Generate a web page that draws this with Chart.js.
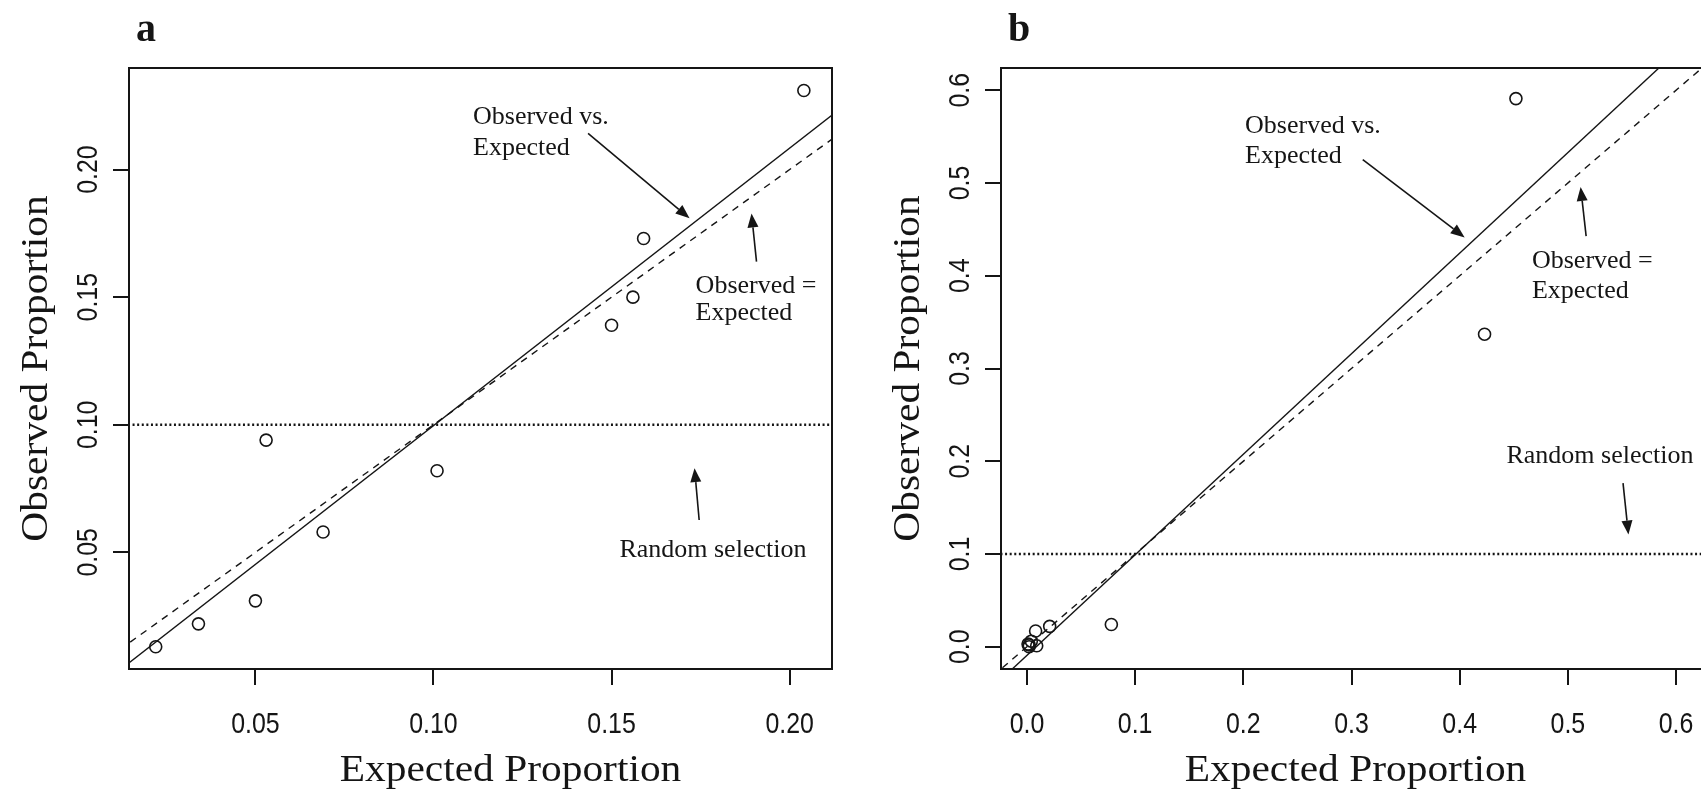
<!DOCTYPE html>
<html><head><meta charset="utf-8">
<script src="https://cdn.jsdelivr.net/npm/chart.js@4.4.0/dist/chart.umd.min.js"></script>
<style>
html,body{margin:0;padding:0;background:#fff;overflow:hidden;width:1701px;height:793px;}
#wa{position:absolute;left:0;top:0;width:850px;height:793px;}
#wb{position:absolute;left:850px;top:0;width:880px;height:793px;}
canvas{display:block;}
</style></head><body>
<div id="wa"><canvas id="ca" width="850" height="793"></canvas></div>
<div id="wb"><canvas id="cb" width="880" height="793"></canvas></div>
<script>
// ---------- Panel a data ----------
const expectedA = [0.022, 0.034, 0.050, 0.053, 0.069, 0.101, 0.150, 0.156, 0.159, 0.204];
const observedA = [0.013, 0.022, 0.031, 0.094, 0.058, 0.082, 0.139, 0.150, 0.173, 0.231];
const fitXA = [0.0, 0.25];
const fitYA = [-0.0091, 0.2628];
const identXA = [0.0, 0.25];
const identYA = [0.0, 0.25];
const randXA = [0.0, 0.25];
const randYA = [0.1, 0.1];
const xTicksA = [0.05, 0.10, 0.15, 0.20];
const xTickLabelsA = ['0.05', '0.10', '0.15', '0.20'];
const yTicksA = [0.05, 0.10, 0.15, 0.20];
const yTickLabelsA = ['0.05', '0.10', '0.15', '0.20'];
const xRangeA = [0.0145, 0.2119];
const yRangeA = [0.0043, 0.2398];

// ---------- Panel b data ----------
const expectedB = [0.452, 0.423, 0.078, 0.021, 0.008, 0.009, 0.004, 0.002, 0.001, 0.002];
const observedB = [0.591, 0.337, 0.024, 0.022, 0.017, 0.001, 0.006, 0.002, 0.003, 0.000];
const fitXB = [-0.05, 0.70];
const fitYB = [-0.0635, 0.7496];
const identXB = [-0.05, 0.70];
const identYB = [-0.05, 0.70];
const randXB = [-0.05, 0.70];
const randYB = [0.1, 0.1];
const xTicksB = [0.0, 0.1, 0.2, 0.3, 0.4, 0.5, 0.6];
const xTickLabelsB = ['0.0', '0.1', '0.2', '0.3', '0.4', '0.5', '0.6'];
const yTicksB = [0.0, 0.1, 0.2, 0.3, 0.4, 0.5, 0.6];
const yTickLabelsB = ['0.0', '0.1', '0.2', '0.3', '0.4', '0.5', '0.6'];
const xRangeB = [-0.024, 0.624];
const yRangeB = [-0.024, 0.624];

// ---------- Annotations (data coordinates) ----------
const notesA = [
  {text: 'Observed vs.', x: 0.1111, y: 0.2178},
  {text: 'Expected', x: 0.1111, y: 0.2056},
  {text: 'Observed =', x: 0.1736, y: 0.1516},
  {text: 'Expected', x: 0.1736, y: 0.1410},
  {text: 'Random selection', x: 0.1522, y: 0.0482}
];
const arrowsA = [
  {x1: 0.1434, y1: 0.2142, x2: 0.1719, y2: 0.1809},
  {x1: 0.1907, y1: 0.1639, x2: 0.1893, y2: 0.1828},
  {x1: 0.1746, y1: 0.0627, x2: 0.1733, y2: 0.0830}
];
const notesB = [
  {text: 'Observed vs.', x: 0.2016, y: 0.5536},
  {text: 'Expected', x: 0.2016, y: 0.5213},
  {text: 'Observed =', x: 0.4668, y: 0.4083},
  {text: 'Expected', x: 0.4668, y: 0.3760},
  {text: 'Random selection', x: 0.4432, y: 0.1984}
];
const arrowsB = [
  {x1: 0.3104, y1: 0.5253, x2: 0.4046, y2: 0.4413},
  {x1: 0.5169, y1: 0.4427, x2: 0.5118, y2: 0.4958},
  {x1: 0.5510, y1: 0.1765, x2: 0.5560, y2: 0.1209}
];

const INK = '#151515';
const SERIF = '"Liberation Serif", "Times New Roman", serif';
const SANS = '"Liberation Sans", Arial, sans-serif';

function drawText(ctx, text, x, y, font, o) {
  o = o || {};
  ctx.save();
  ctx.translate(x, y);
  if (o.rotate) ctx.rotate(o.rotate);
  ctx.scale(o.sx || 1, 1);
  ctx.font = font;
  ctx.textAlign = o.align || 'left';
  ctx.textBaseline = 'alphabetic';
  ctx.fillStyle = INK;
  ctx.fillText(text, 0, 0);
  ctx.restore();
}
function drawArrow(ctx, x1, y1, x2, y2) {
  const a = Math.atan2(y2 - y1, x2 - x1);
  const L = 14, W = 5.5;
  const bx = x2 - L * Math.cos(a), by = y2 - L * Math.sin(a);
  ctx.save();
  ctx.strokeStyle = INK; ctx.fillStyle = INK; ctx.lineWidth = 1.6;
  ctx.beginPath(); ctx.moveTo(x1, y1); ctx.lineTo(bx, by); ctx.stroke();
  ctx.beginPath(); ctx.moveTo(x2, y2);
  ctx.lineTo(bx + W * Math.sin(a), by - W * Math.cos(a));
  ctx.lineTo(bx - W * Math.sin(a), by + W * Math.cos(a));
  ctx.closePath(); ctx.fill();
  ctx.restore();
}
function pts(xs, ys) { return xs.map((x, i) => ({x: x, y: ys[i]})); }

function makePanel(id, p) {
  const deco = {
    id: 'deco',
    afterDraw(chart) {
      const ctx = chart.ctx, ca = chart.chartArea;
      const xs = chart.scales.x, ys = chart.scales.y;
      ctx.save();
      ctx.strokeStyle = INK; ctx.lineWidth = 2;
      ctx.strokeRect(ca.left, ca.top, ca.right - ca.left, ca.bottom - ca.top);
      ctx.restore();
      p.xTicks.forEach((v, i) => drawText(ctx, p.xLabels[i], xs.getPixelForValue(v), ca.bottom + 64,
        '30px ' + SANS, {align: 'center', sx: 0.83}));
      p.yTicks.forEach((v, i) => drawText(ctx, p.yLabels[i], ca.left - 32, ys.getPixelForValue(v),
        '30px ' + SANS, {align: 'center', sx: 0.83, rotate: -Math.PI / 2}));
      drawText(ctx, 'Expected Proportion', (ca.left + ca.right) / 2 + p.xTitleDx, ca.bottom + 112,
        '38px ' + SERIF, {align: 'center', sx: 1.09});
      drawText(ctx, 'Observed Proportion', ca.left - 82, (ca.top + ca.bottom) / 2,
        '38px ' + SERIF, {align: 'center', sx: 1.09, rotate: -Math.PI / 2});
      drawText(ctx, p.letter, ca.left + 7, 41, 'bold 40px ' + SERIF, {});
      p.notes.forEach(n => drawText(ctx, n.text, xs.getPixelForValue(n.x), ys.getPixelForValue(n.y),
        '25px ' + SERIF, {sx: 1.04}));
      p.arrows.forEach(a => drawArrow(ctx, xs.getPixelForValue(a.x1), ys.getPixelForValue(a.y1),
        xs.getPixelForValue(a.x2), ys.getPixelForValue(a.y2)));
    }
  };
  const axisCommon = (ticks, fitKey) => ({
    type: 'linear',
    afterBuildTicks: s => { s.ticks = ticks.map(v => ({value: v})); },
    afterFit: s => { s[fitKey] = 100; },
    ticks: {display: false},
    grid: {display: true, drawOnChartArea: false, drawTicks: true, tickLength: 16, color: INK, lineWidth: 2},
    border: {display: false}
  });
  const xs = Object.assign(axisCommon(p.xTicks, 'height'), {min: p.xRange[0], max: p.xRange[1]});
  const ys = Object.assign(axisCommon(p.yTicks, 'width'), {min: p.yRange[0], max: p.yRange[1]});
  return new Chart(document.getElementById(id), {
    type: 'scatter',
    data: {
      datasets: [
        {type: 'scatter', label: 'Observed', data: pts(p.ex, p.ob), pointRadius: 6, pointBorderWidth: 1.6,
         pointBackgroundColor: 'rgba(0,0,0,0)', pointBorderColor: INK, order: 0},
        {type: 'line', label: 'Observed vs. Expected', data: pts(p.fitX, p.fitY), borderColor: INK,
         borderWidth: 1.4, pointRadius: 0, fill: false, clip: 0, order: 1},
        {type: 'line', label: 'Observed = Expected', data: pts(p.idX, p.idY), borderColor: INK,
         borderWidth: 1.4, borderDash: [7, 6], pointRadius: 0, fill: false, clip: 0, order: 2},
        {type: 'line', label: 'Random selection', data: pts(p.rX, p.rY), borderColor: INK,
         borderWidth: 2.4, borderDash: [2, 2.6], pointRadius: 0, fill: false, clip: 0, order: 3}
      ]
    },
    options: {
      responsive: false, animation: false, devicePixelRatio: 1,
      layout: {padding: p.pad},
      plugins: {legend: {display: false}, tooltip: {enabled: false}},
      scales: {x: xs, y: ys}
    },
    plugins: [deco]
  });
}

makePanel('ca', {
  ex: expectedA, ob: observedA, fitX: fitXA, fitY: fitYA, idX: identXA, idY: identYA, rX: randXA, rY: randYA,
  xTicks: xTicksA, xLabels: xTickLabelsA, yTicks: yTicksA, yLabels: yTickLabelsA,
  xRange: xRangeA, yRange: yRangeA, notes: notesA, arrows: arrowsA, letter: 'a', xTitleDx: 30,
  pad: {left: 29, top: 68, right: 18, bottom: 24}
});
makePanel('cb', {
  ex: expectedB, ob: observedB, fitX: fitXB, fitY: fitYB, idX: identXB, idY: identYB, rX: randXB, rY: randYB,
  xTicks: xTicksB, xLabels: xTickLabelsB, yTicks: yTicksB, yLabels: yTickLabelsB,
  xRange: xRangeB, yRange: yRangeB, notes: notesB, arrows: arrowsB, letter: 'b', xTitleDx: 4,
  pad: {left: 51, top: 68, right: 28, bottom: 24}
});
</script>
</body></html>
